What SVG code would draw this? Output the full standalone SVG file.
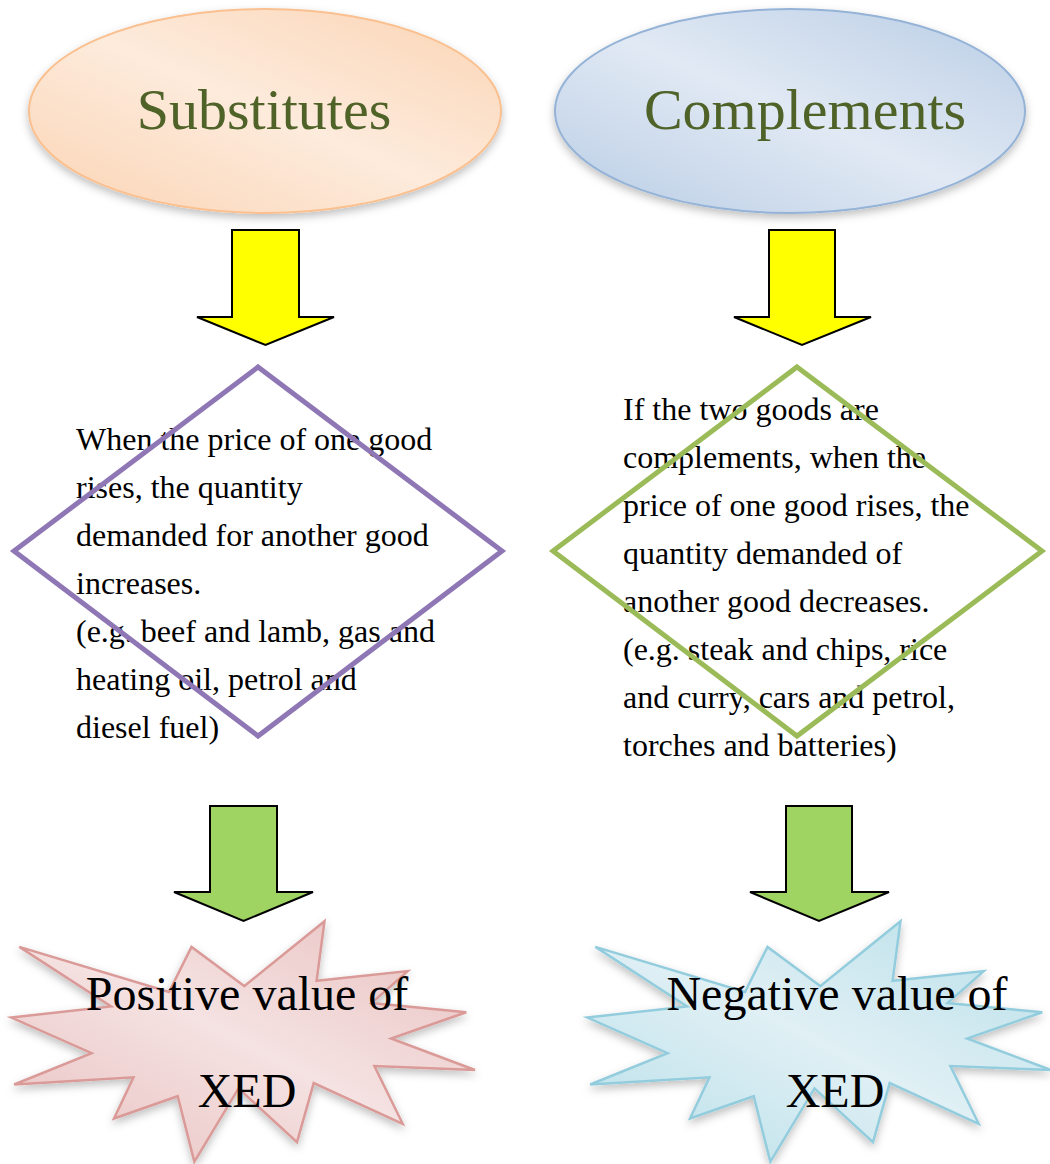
<svg xmlns="http://www.w3.org/2000/svg" xmlns:xlink="http://www.w3.org/1999/xlink" width="1050" height="1164" viewBox="0 0 1050 1164">
<style>
.title{font-family:"Liberation Serif","Times New Roman",serif;font-size:58px;fill:#4F6228;text-anchor:middle}
.body{font-family:"Liberation Serif","Times New Roman",serif;font-size:32px;fill:#000}
.burst{font-family:"Liberation Serif","Times New Roman",serif;font-size:48px;fill:#000;text-anchor:middle}
.yarrow{fill:#FFFF00;stroke:#000;stroke-width:2;stroke-linejoin:miter}
.garrow{fill:#A0D462;stroke:#000;stroke-width:2;stroke-linejoin:miter}
.diamond{fill:none;stroke-width:5;stroke-linejoin:miter}
</style>
<defs>
<filter id="shadow" x="-10%" y="-10%" width="120%" height="130%">
<feDropShadow dx="0" dy="4" stdDeviation="4" flood-color="#000" flood-opacity="0.25"/>
</filter>
<linearGradient id="gOrange" x1="1" y1="0" x2="0" y2="1">
<stop offset="0" stop-color="#FBD4B4"/><stop offset="0.5" stop-color="#FDEBDC"/><stop offset="1" stop-color="#FBD4B4"/>
</linearGradient>
<linearGradient id="gBlue" x1="1" y1="0" x2="0" y2="1">
<stop offset="0" stop-color="#B9CDE5"/><stop offset="0.5" stop-color="#E1E9F4"/><stop offset="1" stop-color="#B9CDE5"/>
</linearGradient>
<linearGradient id="gPink" x1="1" y1="0" x2="0" y2="1">
<stop offset="0" stop-color="#E8C0BF"/><stop offset="0.5" stop-color="#F5E2E2"/><stop offset="1" stop-color="#E8C0BF"/>
</linearGradient>
<linearGradient id="gCyan" x1="1" y1="0" x2="0" y2="1">
<stop offset="0" stop-color="#B7DEE8"/><stop offset="0.5" stop-color="#E0F0F5"/><stop offset="1" stop-color="#B7DEE8"/>
</linearGradient>
<path id="seal" d="M244.2,986.1 L191.5,946.9 L169.0,992.0 L19.3,946.9 L111.1,1006.5 L11.3,1017.6 L91.6,1053.1 L14.2,1084.5 L133.5,1077.3 L114.0,1118.5 L177.7,1096.2 L194.3,1161.9 L238.5,1088.4 L297.0,1142.2 L313.7,1083.1 L402.7,1123.8 L374.4,1066.1 L475,1070 L391.1,1038.5 L466.3,1012.3 L371.6,1003.1 L407.7,971.1 L316.6,980.8 L324.5,921.2 Z"/>
</defs>

<g id="connectors">
<polygon class="yarrow" points="232,230 299,230 299,317 334,317 265.5,345 197,317 232,317"/>
<polygon class="yarrow" points="769,230 835,230 835,317 871,317 802,345 734,317 769,317"/>
<polygon class="garrow" points="210,806 277,806 277,892 313,892 243.5,921 174,892 210,892"/>
<polygon class="garrow" points="786,806 852,806 852,892 889,892 819,921 750,892 786,892"/>
</g>

<g id="substitutes">
<ellipse cx="265" cy="111" rx="236" ry="102" fill="url(#gOrange)" stroke="#FAC090" stroke-width="2" filter="url(#shadow)"/>
<text class="title" x="264" y="129">Substitutes</text>
</g>

<g id="complements">
<ellipse cx="790" cy="111" rx="235" ry="102" fill="url(#gBlue)" stroke="#95B3D7" stroke-width="2" filter="url(#shadow)"/>
<text class="title" x="805" y="129">Complements</text>
</g>

<g id="substitutes-desc">
<text class="body">
<tspan x="76" y="450">When the price of one good</tspan>
<tspan x="76" y="498">rises, the quantity</tspan>
<tspan x="76" y="546">demanded for another good</tspan>
<tspan x="76" y="594">increases.</tspan>
<tspan x="76" y="642">(e.g. beef and lamb, gas and</tspan>
<tspan x="76" y="690">heating oil, petrol and</tspan>
<tspan x="76" y="738">diesel fuel)</tspan>
</text>
<polygon class="diamond" stroke="#8F77B5" points="258,367 502,551 258,736 14,551"/>
</g>

<g id="complements-desc">
<text class="body">
<tspan x="623" y="420">If the two goods are</tspan>
<tspan x="623" y="468">complements, when the</tspan>
<tspan x="623" y="516">price of one good rises, the</tspan>
<tspan x="623" y="564">quantity demanded of</tspan>
<tspan x="623" y="612">another good decreases.</tspan>
<tspan x="623" y="660">(e.g. steak and chips, rice</tspan>
<tspan x="623" y="708">and curry, cars and petrol,</tspan>
<tspan x="623" y="756">torches and batteries)</tspan>
</text>
<polygon class="diamond" stroke="#9BBB59" points="797,367 1042,551 797,736 553,551"/>
</g>

<g id="positive">
<use xlink:href="#seal" href="#seal" fill="url(#gPink)" stroke="#DA9A98" stroke-width="2.5" filter="url(#shadow)"/>
<text class="burst" x="247" y="1010">Positive value of</text>
<text class="burst" x="247" y="1107">XED</text>
</g>

<g id="negative">
<use xlink:href="#seal" href="#seal" transform="translate(576,0)" fill="url(#gCyan)" stroke="#93CDDD" stroke-width="2.5" filter="url(#shadow)"/>
<text class="burst" x="837" y="1010">Negative value of</text>
<text class="burst" x="835" y="1107">XED</text>
</g>
</svg>
